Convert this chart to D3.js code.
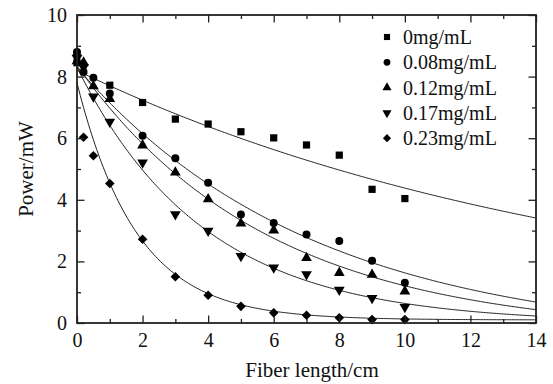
<!DOCTYPE html>
<html>
<head>
	<title>fiber power</title>
	<script src="https://cdn.jsdelivr.net/npm/d3@7"></script>
</head>
<style type="text/css">
	body { margin:0; background:#fff; }
	text { font-family: "Liberation Serif", "Times New Roman", serif; fill:#111; }
</style>
<body>
</body>
</html>
<script type="text/javascript">
	// measured points, one array per concentration
	var labels = ["0mg/mL", "0.08mg/mL", "0.12mg/mL", "0.17mg/mL", "0.23mg/mL"];
	var x0 = [0, 1, 2, 3, 4, 5, 6, 7, 8, 9, 10];
	var y0 = [8.45, 7.72, 7.16, 6.62, 6.46, 6.21, 6.01, 5.78, 5.45, 4.34, 4.04];
	var x1 = [0, 0.2, 0.5, 1, 2, 3, 4, 5, 6, 7, 8, 9, 10];
	var y1 = [8.8, 8.15, 7.96, 7.45, 6.08, 5.35, 4.55, 3.52, 3.25, 2.87, 2.66, 2.02, 1.31];
	var x2 = [0, 0.2, 0.5, 1, 2, 3, 4, 5, 6, 7, 8, 9, 10];
	var y2 = [8.5, 8.46, 7.69, 7.28, 5.77, 4.89, 4.02, 3.23, 3.01, 2.11, 1.63, 1.57, 1.03];
	var x3 = [0, 0.2, 0.5, 1, 2, 3, 4, 5, 6, 7, 8, 9, 10];
	var y3 = [8.6, 8.3, 7.35, 6.53, 5.21, 3.53, 2.99, 2.17, 1.80, 1.58, 1.08, 0.81, 0.52];
	var x4 = [0, 0.2, 0.5, 1, 2, 3, 4, 5, 6, 7, 8, 9, 10];
	var y4 = [8.7, 6.03, 5.43, 4.53, 2.72, 1.50, 0.90, 0.54, 0.33, 0.25, 0.17, 0.11, 0.11];
	// exponential fits  y = A*exp(-b*x) + c
	var fitA = [8.2, 8.9, 8.7, 8.3, 7.7];
	var fitB = [0.0627, 0.1385, 0.172, 0.257, 0.55];
	var fitC = [0, -0.6, -0.35, 0, 0.1];
	var xTicks = [0, 2, 4, 6, 8, 10, 12, 14];
	var yTicks = [0, 2, 4, 6, 8, 10];

	var xs = [x0, x1, x2, x3, x4];
	var ys = [y0, y1, y2, y3, y4];

	var width = 553, height = 384;
	var margin = {left:77, right:17, top:15, bottom:61};
	var w = width - margin.left - margin.right;
	var h = height - margin.top - margin.bottom;

	var svg = d3.select("body").append("svg").attr("width", width).attr("height", height);
	var g = svg.append("g").attr("transform", "translate(" + margin.left + "," + margin.top + ")");

	var x = d3.scaleLinear().domain([0, 14]).range([0, w]);
	var y = d3.scaleLinear().domain([0, 10]).range([h, 0]);

	var symbols = [
		d3.symbol().type(d3.symbolSquare).size(52),
		d3.symbol().type(d3.symbolCircle).size(50),
		d3.symbol().type(d3.symbolTriangle).size(50),
		d3.symbol().type(d3.symbolTriangle).size(50),
		d3.symbol().type(d3.symbolSquare).size(46)
	];
	var rot = [0, 0, 0, 180, 45];

	// fit curves
	var line = d3.line().x(function(d){return x(d[0])}).y(function(d){return y(d[1])});
	var clip = svg.append("clipPath").attr("id", "pl").append("rect").attr("width", w).attr("height", h);
	for (var i = 0; i < 5; i++) {
		var pts = d3.range(0, 14.001, 0.05).map(function(t){ return [t, fitA[i] * Math.exp(-fitB[i] * t) + fitC[i]]; });
		g.append("path").datum(pts).attr("d", line).attr("fill", "none")
			.attr("stroke", "#222").attr("stroke-width", 1).attr("clip-path", "url(#pl)");
	}

	// points
	for (var i = 0; i < 5; i++) {
		g.append("g").selectAll("path").data(d3.zip(xs[i], ys[i])).enter().append("path")
			.attr("d", symbols[i])
			.attr("transform", function(d){ return "translate(" + x(d[0]) + "," + y(d[1]) + ") rotate(" + rot[i] + ")"; })
			.attr("fill", "#000");
	}

	// axes, ticks inward on all four sides
	function styleAxis(a) {
		a.select(".domain").remove();
		a.selectAll(".tick line").attr("stroke", "#222").attr("stroke-width", 1.3);
		a.selectAll(".tick text").style("font-size", "20px").attr("fill", "#111");
	}
	var minorX = d3.range(0, 15, 1), minorY = d3.range(0, 11, 1);
	var ax = g.append("g").attr("transform", "translate(0," + h + ")")
		.call(d3.axisBottom(x).tickValues(minorX).tickSizeInner(-4).tickSizeOuter(0).tickPadding(10)
			.tickFormat(function(d){ return xTicks.indexOf(d) >= 0 ? d : ""; }));
	styleAxis(ax);
	ax.selectAll(".tick line").filter(function(d){ return xTicks.indexOf(d) >= 0; }).attr("y2", -7.5);
	var axT = g.append("g").call(d3.axisTop(x).tickValues(minorX).tickSizeInner(-4).tickSizeOuter(0).tickFormat(""));
	styleAxis(axT);
	axT.selectAll(".tick line").filter(function(d){ return xTicks.indexOf(d) >= 0; }).attr("y2", 7.5);

	var ay = g.append("g")
		.call(d3.axisLeft(y).tickValues(minorY).tickSizeInner(-4).tickSizeOuter(0).tickPadding(10)
			.tickFormat(function(d){ return yTicks.indexOf(d) >= 0 ? d : ""; }));
	styleAxis(ay);
	ay.selectAll(".tick line").filter(function(d){ return yTicks.indexOf(d) >= 0; }).attr("x2", 7.5);
	var ayR = g.append("g").attr("transform", "translate(" + w + ",0)")
		.call(d3.axisRight(y).tickValues(minorY).tickSizeInner(-4).tickSizeOuter(0).tickFormat(""));
	styleAxis(ayR);
	ayR.selectAll(".tick line").filter(function(d){ return yTicks.indexOf(d) >= 0; }).attr("x2", -7.5);

	g.append("rect").attr("width", w).attr("height", h).attr("fill", "none")
		.attr("stroke", "#222").attr("stroke-width", 1.8);

	// titles
	svg.append("text").attr("x", 312).attr("y", 377).style("text-anchor", "middle")
		.style("font-size", "21px").text("Fiber length/cm");
	svg.append("text").attr("transform", "translate(33," + (margin.top + h / 2) + ") rotate(-90)")
		.style("text-anchor", "middle").style("font-size", "21px").text("Power/mW");

	// legend
	var leg = svg.append("g").attr("transform", "translate(387,37)");
	for (var i = 0; i < 5; i++) {
		var r = leg.append("g").attr("transform", "translate(0," + (i * 25.3) + ")");
		r.append("path").attr("d", symbols[i]).attr("fill", "#000")
			.attr("transform", "rotate(" + rot[i] + ") scale(0.85)");
		r.append("text").attr("x", 16).attr("y", 7).style("font-size", "20px").text(labels[i]);
	}
</script>
